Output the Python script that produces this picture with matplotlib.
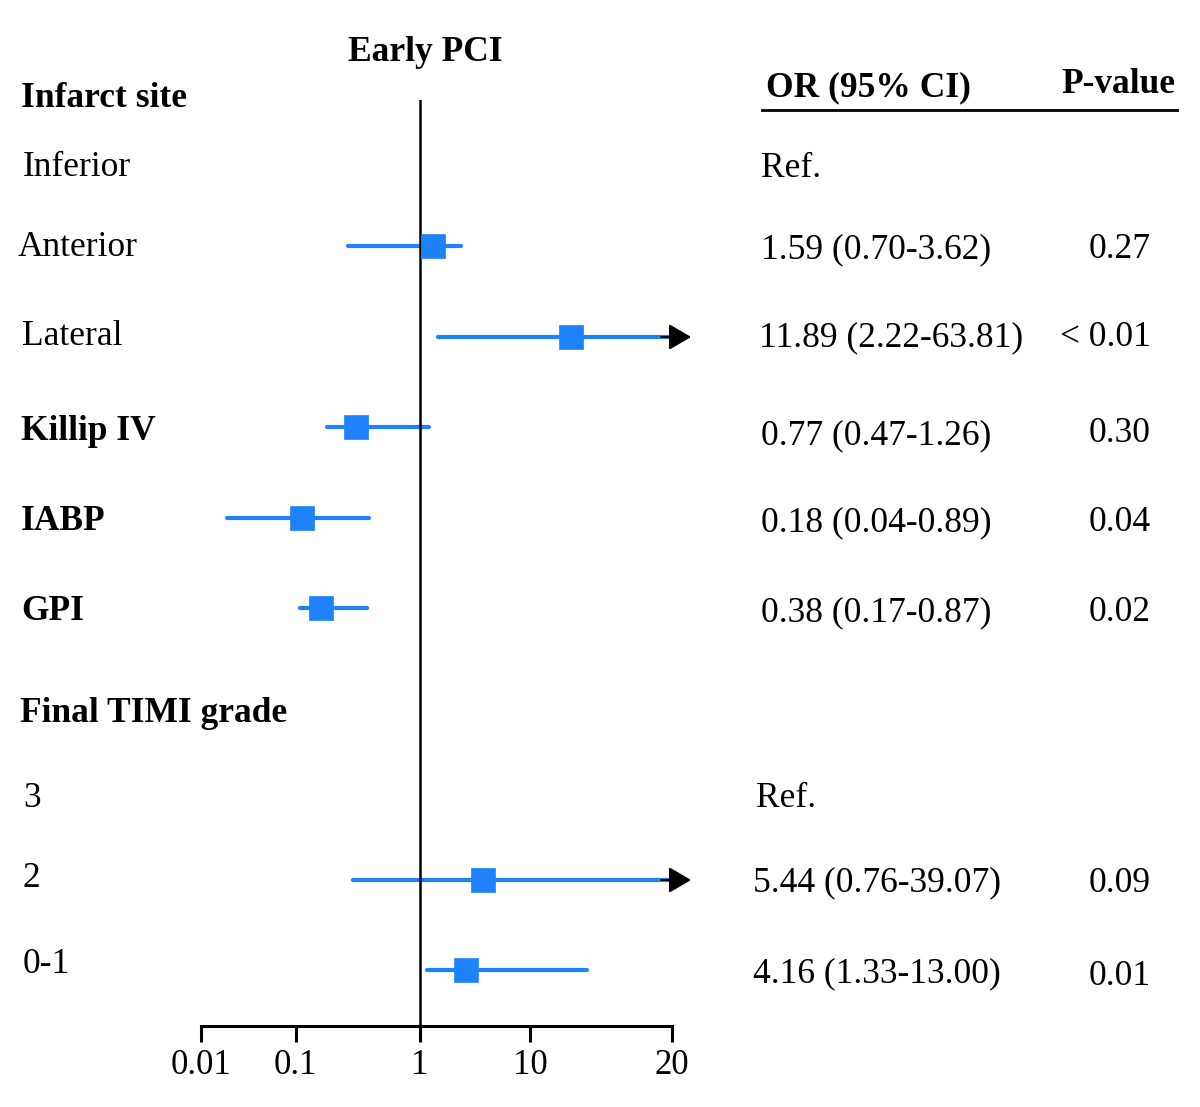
import numpy as np
import matplotlib
matplotlib.use("Agg")
import matplotlib.pyplot as plt

plt.rcParams['font.family'] = ['Liberation Serif', 'DejaVu Serif']

# ---------------- data ----------------
row_labels = ["Infarct site", "Inferior", "Anterior", "Lateral", "Killip IV", "IABP",
              "GPI", "Final TIMI grade", "3", "2", "0-1"]
row_bold = [True, False, False, False, True, True, True, True, False, False, False]
or_text = ["", "Ref.", "1.59 (0.70-3.62)", "11.89 (2.22-63.81)", "0.77 (0.47-1.26)",
           "0.18 (0.04-0.89)", "0.38 (0.17-0.87)", "", "Ref.", "5.44 (0.76-39.07)",
           "4.16 (1.33-13.00)"]
p_text = ["", "", "0.27", "< 0.01", "0.30", "0.04", "0.02", "", "", "0.09", "0.01"]

# plotted marks (value on the OR axis); None = no mark
est = [None, None, 1.30, 12.2, 0.306, 0.113, 0.160, None, None, 3.76, 2.62]
ci_lo = [None, None, 0.264, 1.46, 0.178, 0.0188, 0.108, None, None, 0.291, 1.15]
ci_hi = [None, None, 2.34, 63.81, 1.21, 0.389, 0.372, None, None, 39.07, 13.2]

tick_values = [0.01, 0.1, 1, 10, 20]
tick_labels = ["0.01", "0.1", "1", "10", "20"]

# ---------------- layout ----------------
W, H = 1200, 1107
BLUE = "#1E82FA"
FS = 25.5

# pixel baselines / centres of rows
label_x = [21, 22.7, 17.3, 21.7, 21, 21, 21, 20, 23, 23, 23]
label_base = [106.7, 176, 256, 345, 440, 530, 620, 722.3, 806.7, 886.7, 973.3]
or_x = [0, 760.7, 760.7, 759, 760.7, 760.7, 760.7, 0, 756, 753.3, 753.3]
or_base = [0, 177, 258, 346, 444, 531, 621, 0, 806.7, 891.7, 982]
p_base = [0, 0, 258, 346, 441.7, 531, 621, 0, 0, 891.7, 985]
mark_y = [0, 0, 246, 337, 427, 517.5, 608, 0, 0, 880, 970]

# axis position fractions of the tick values (the drawn axis is not a true log scale)
TICK_FRAC = [0.0, 0.2017, 0.4656, 0.6992, 1.0]
TICK_LOG = np.log10(tick_values)


def _pw(v, xs, ys):
    v = np.asarray(v, dtype=float)
    out = np.interp(v, xs, ys)
    s0 = (ys[1] - ys[0]) / (xs[1] - xs[0])
    s1 = (ys[-1] - ys[-2]) / (xs[-1] - xs[-2])
    out = np.where(v < xs[0], ys[0] + (v - xs[0]) * s0, out)
    out = np.where(v > xs[-1], ys[-1] + (v - xs[-1]) * s1, out)
    return out


def fwd(x):
    x = np.clip(np.asarray(x, dtype=float), 1e-6, None)
    return _pw(np.log10(x), TICK_LOG, TICK_FRAC)


def inv(p):
    return 10 ** _pw(p, TICK_FRAC, TICK_LOG)


fig = plt.figure(figsize=(W / 100, H / 100), dpi=100)

# text layer in pixel coordinates
tax = fig.add_axes([0, 0, 1, 1])
tax.set_xlim(0, W)
tax.set_ylim(H, 0)
tax.axis("off")

# main forest axes
x0, x1 = 200.7, 671.7
y_top, y_bot = 100, 1026
ax = fig.add_axes([x0 / W, (H - y_bot) / H, (x1 - x0) / W, (y_bot - y_top) / H])
ax.set_xscale("function", functions=(fwd, inv))
ax.set_xlim(tick_values[0], tick_values[-1])
ax.set_ylim(y_bot, y_top)
ax.patch.set_alpha(0)
for s in ["top", "right", "left"]:
    ax.spines[s].set_visible(False)
ax.spines["bottom"].set_linewidth(2.2)
ax.set_yticks([])
ax.set_xticks(tick_values)
ax.set_xticklabels(tick_labels, fontsize=25)
ax.xaxis.set_minor_locator(matplotlib.ticker.NullLocator())
ax.tick_params(axis="x", direction="out", length=11.5, width=2.2, pad=5)

ax.axvline(1, color="black", lw=1.8, zorder=2)

xmax = tick_values[-1]
ARROW_START, ARROW_TIP = 19.0, 22.0
for i in range(len(row_labels)):
    if est[i] is None:
        continue
    y = mark_y[i]
    hi = min(ci_hi[i], xmax)
    ax.plot([ci_lo[i], hi], [y, y], color=BLUE, lw=3, solid_capstyle="round", zorder=1)
    ax.plot([est[i]], [y], marker="s", ms=17, color=BLUE, mec=BLUE, mew=0.5, zorder=3)
    if ci_hi[i] > xmax:
        ax.annotate("", xy=(ARROW_TIP, y), xytext=(ARROW_START, y),
                    arrowprops=dict(arrowstyle="-|>,head_length=0.55,head_width=0.32",
                                    color="black", lw=1.5, mutation_scale=25,
                                    shrinkA=0, shrinkB=0),
                    annotation_clip=False, zorder=4)

# headers
tax.text(425.5, 60.7, "Early PCI", fontsize=FS, fontweight="bold", ha="center", va="baseline")
tax.text(766, 96, "OR (95% CI)", fontsize=FS, fontweight="bold", ha="left", va="baseline")
tax.text(1061.7, 92.7, "P-value", fontsize=FS, fontweight="bold", ha="left", va="baseline")
tax.plot([762, 1177], [110, 110], color="black", lw=2)

for i, lab in enumerate(row_labels):
    tax.text(label_x[i], label_base[i], lab, fontsize=FS,
             fontweight="bold" if row_bold[i] else "normal", ha="left", va="baseline")
    if or_text[i]:
        tax.text(or_x[i], or_base[i], or_text[i], fontsize=FS, ha="left", va="baseline")
    if p_text[i]:
        tax.text(1151, p_base[i], p_text[i], fontsize=FS, ha="right", va="baseline")

fig.savefig("out.png", dpi=100)
